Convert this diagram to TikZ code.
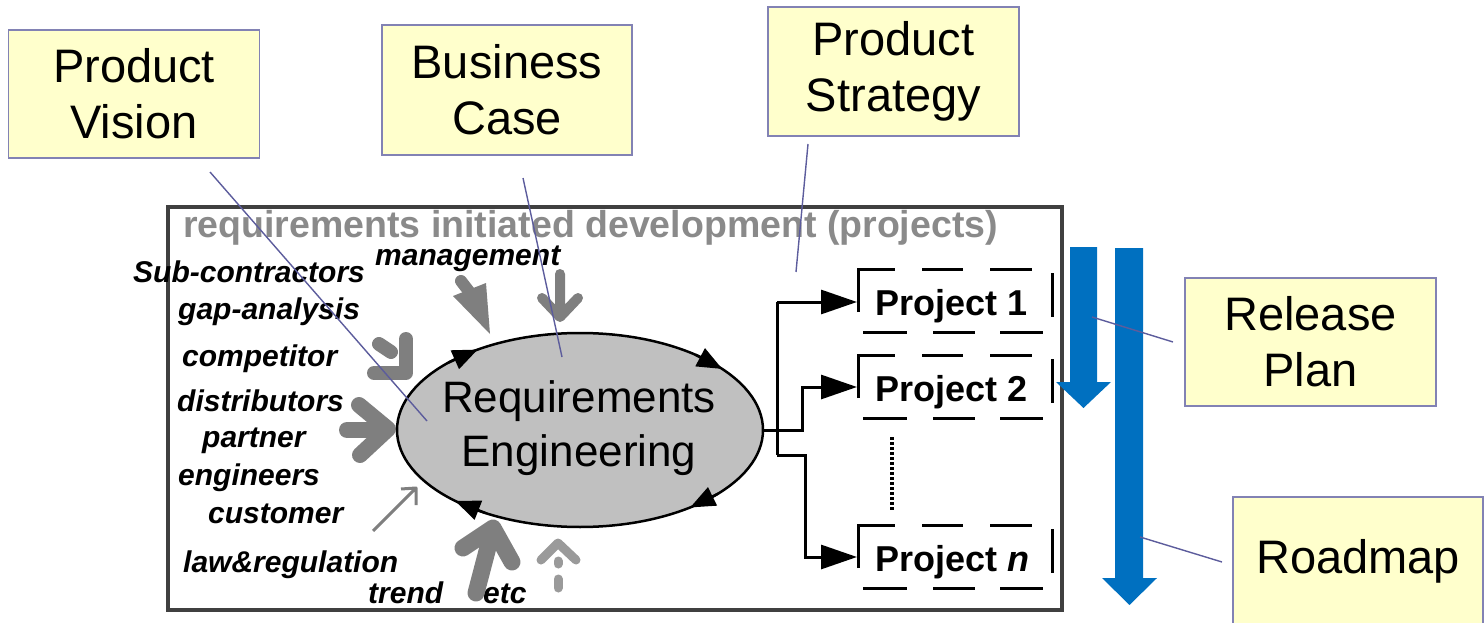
\documentclass[tikz,border=0pt]{standalone}
\usepackage{fontspec}
\setmainfont{Liberation Sans}
\usetikzlibrary{arrows.meta,shapes.geometric,calc}
\definecolor{callfill}{HTML}{FFFFCC}
\definecolor{callline}{HTML}{8282B4}
\definecolor{leadcol}{HTML}{5C5C9C}
\definecolor{inarrow}{HTML}{7F7F7F}
\definecolor{lightarrow}{HTML}{9A9A9A}
\definecolor{titlegray}{HTML}{8A8A8A}
\definecolor{ellfill}{HTML}{C0C0C0}
\definecolor{bluearr}{HTML}{0070C0}
\begin{document}
\begin{tikzpicture}[x=1pt,y=-1pt,
  callout/.style={draw=callline, line width=1.6pt, fill=callfill, inner sep=0pt, align=center,
     font=\fontsize{47}{56}\selectfont, minimum width=251pt, minimum height=128pt},
  leader/.style={draw=leadcol, line width=1.4pt},
  srclabel/.style={font=\fontsize{30}{32}\selectfont\bfseries\itshape, inner sep=0pt, anchor=base west},
  gin/.style={draw=inarrow, line cap=round, line join=round},
  projtext/.style={font=\fontsize{36}{40}\selectfont\bfseries, inner sep=0pt, anchor=base west},
  projline/.style={line width=3pt},
  flow/.style={line width=3pt, -{Triangle[length=36pt,width=24pt]}},
  cyc/.style={line width=2.5pt, -{Triangle[length=25pt,width=20pt]}}
]
\useasboundingbox (0,0) rectangle (1484,623);

% frame
\draw[draw=black!75, line width=3.5pt] (168,207) rectangle (1062,610);
\node[anchor=base west, inner sep=0pt, text=titlegray,
      font=\fontsize{37.5}{40}\selectfont\bfseries] (title) at (183,237)
      {requirements initiated development (projects)};

% source labels
\node[srclabel] (sub) at (133,282) {Sub-contractors};
\node[srclabel] (gap) at (178,319) {gap-analysis};
\node[srclabel] (comp) at (182,366) {competitor};
\node[srclabel] (dist) at (177,411) {distributors};
\node[srclabel] (part) at (202,447) {partner};
\node[srclabel] (eng) at (178,485) {engineers};
\node[srclabel] (cust) at (208,523) {customer};
\node[srclabel] (law) at (183,572) {law\&regulation};
\node[srclabel] (trend) at (368,603) {trend};
\node[srclabel] (etc) at (483,603) {etc};
\node[srclabel] (mgmt) at (375,265) {management};

% gray input arrows
\draw[gin, line width=12pt] (461,281) -- (471,294);
\fill[inarrow] (453,296) -- (486,283) -- (490,334) -- cycle;
\draw[gin, line width=10pt] (560,274) -- (560,316) (542,298) -- (560,317) -- (578,298);
\draw[gin, line width=14pt] (379,344) -- (391,352);
\draw[gin, line width=14pt] (406,339) -- (406,373) -- (374,373);
\draw[gin, line width=16pt] (347,430) -- (385,430);
\draw[gin, line width=16pt] (359,405) -- (388,429) -- (360,455);
\draw[gin, line width=3pt, line cap=butt] (373,531) -- (415,489) (401,489) -- (416,488) -- (416,505);
\draw[gin, line width=17pt] (476,593) -- (492,532);
\draw[gin, line width=17pt] (463,548) -- (493,528) -- (512,562);
\draw[gin, draw=lightarrow, line width=9pt] (558,561) -- (558,564) (558,579) -- (558,588);
\draw[gin, draw=lightarrow, line width=9pt] (541,560) -- (558,543) -- (576,560);

% requirements engineering
\node[ellipse, draw, line width=2.5pt, fill=ellfill, minimum width=366pt, minimum height=194pt,
      inner sep=0pt] (re) at (580,430) {};
\node[align=center, inner sep=0pt, font=\fontsize{44}{54}\selectfont] (retext) at (579,428)
      {Requirements\\Engineering};
\draw[cyc] ($(re.center)+(224:183 and 97)$) -- ($(re.center)+(236:183 and 97)$);
\draw[cyc] ($(re.center)+(309:183 and 97)$) -- ($(re.center)+(321:183 and 97)$);
\draw[cyc] ($(re.center)+(41:183 and 97)$) -- ($(re.center)+(53:183 and 97)$);
\draw[cyc] ($(re.center)+(121:183 and 97)$) -- ($(re.center)+(133:183 and 97)$);

% projects
\node[projtext] (p1) at (875,315) {Project 1};
\node[projtext] (p2) at (875,401) {Project 2};
\node[projtext] (pn) at (875,571) {Project \textit{n}};
\coordinate (p1in) at (857,302);
\coordinate (p2in) at (857,387);
\coordinate (pnin) at (857,557);
\coordinate (trtop) at (777,302);
\coordinate (trbot) at (777,455);
\foreach \dy in {0,86,256}{
  \draw[projline] (858,312+\dy) -- (858,269+\dy) -- (895,269+\dy);
  \draw[projline] (922,269+\dy) -- (963,269+\dy) (990,269+\dy) -- (1032,269+\dy);
  \draw[projline] (1052,273+\dy) -- (1052,317+\dy);
  \draw[projline] (863,332+\dy) -- (907,332+\dy) (933,332+\dy) -- (975,332+\dy)
                  (1000,332+\dy) -- (1043,332+\dy);
}
\draw[line width=3.5pt, dash pattern=on 2.5pt off 2.5pt] (892,437) -- (892,510);

\draw[projline] (trtop) -- (trbot);
\draw[flow] (trtop) -- (p1in);
\draw[flow] (re.east) -- (802,430) -- (802,387) -- (p2in);
\draw[flow] (trbot) -- (805,455) -- (805,557) -- (pnin);

% blue arrows
\fill[bluearr] (1070,247) -- (1097,247) -- (1097,382) -- (1111,382) -- (1083.5,408)
   -- (1056,382) -- (1070,382) -- cycle;
\fill[bluearr] (1115,248) -- (1143,248) -- (1143,578) -- (1157,578) -- (1129.5,605)
   -- (1102,578) -- (1115,578) -- cycle;

% callouts
\node[callout] (pv) at (134,94) {Product\\Vision};
\node[callout, minimum width=250pt, minimum height=130pt] (bc) at (507,90) {Business\\Case};
\node[callout, minimum height=129pt] (ps) at (893.5,71.5) {Product\\Strategy};
\node[callout] (rp) at (1310.5,342) {Release\\Plan};
\node[callout, minimum width=250pt] (rm) at (1358,561) {Roadmap};

% leader lines
\coordinate (pvs) at (210,172);  \coordinate (pvt) at (427,421);
\coordinate (bcs) at (523,178);  \coordinate (bct) at (562,357);
\coordinate (pss) at (808,144);  \coordinate (pst) at (796,272);
\coordinate (rps) at (1173,342); \coordinate (rpt) at (1092,317);
\coordinate (rms) at (1222,562); \coordinate (rmt) at (1140,537);
\draw[leader] (pvs) -- (pvt);
\draw[leader] (bcs) -- (bct);
\draw[leader] (pss) -- (pst);
\draw[leader] (rps) -- (rpt);
\draw[leader] (rms) -- (rmt);
\end{tikzpicture}
\end{document}
